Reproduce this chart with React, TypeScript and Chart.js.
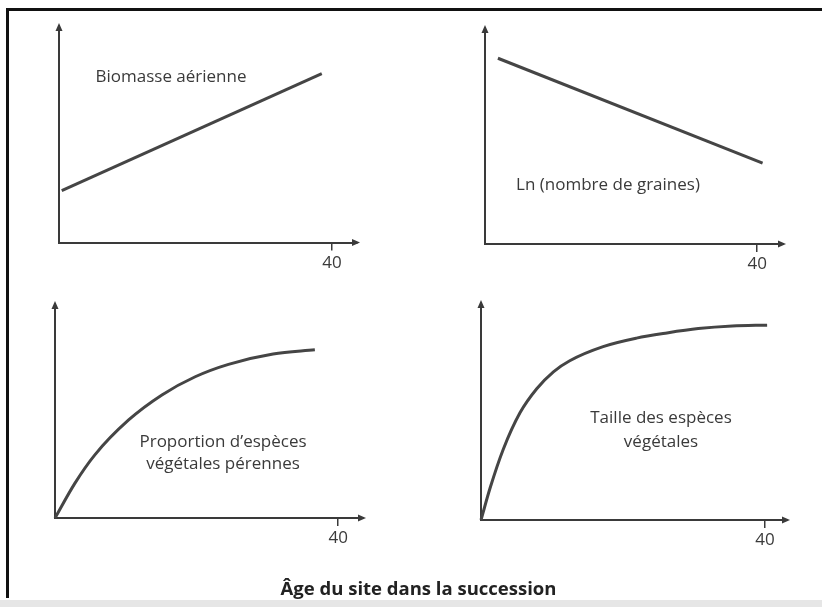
import React, { useEffect, useRef } from "react";
import { Chart, registerables } from "chart.js";

Chart.register(...registerables);

const W = 822;
const H = 607;

// ---- Data ----
const biomasseX = [0.4, 38.5];
const biomasseY = [24, 78];

const grainesX = [1.9, 40.8];
const grainesY = [86, 37.4];

const perennesX = [0, 2.8, 5.6, 10.4, 15.1, 19.8, 24.5, 30.8, 36.7];
const perennesY = [0, 16.2, 29.4, 45.8, 57.5, 66, 71.8, 76.6, 78.6];

const tailleX = [0, 1.27, 3.14, 5.49, 7.85, 10.2, 12.5, 17.2, 21.9, 26.2, 30.6, 35.4, 40.3];
const tailleY = [0, 14.6, 32.6, 49.4, 60.5, 68.3, 73.4, 79.9, 83.8, 86.2, 88.2, 89.4, 89.8];

const xTickValues = [40];
const xTickLabels = ["40"];

const labelBiomasse = ["Biomasse aérienne"];
const labelGraines = ["Ln (nombre de graines)"];
const labelPerennes = ["Proportion d’espèces", "végétales pérennes"];
const labelTaille = ["Taille des espèces", "végétales"];

const axisTitle = "Âge du site dans la succession";

// ---- Layout / style ----
const FONT = "'Open Sans', 'DejaVu Sans', sans-serif";
const AXIS_COLOR = "#3a3a3a";
const LINE_COLOR = "#454545";
const TEXT_COLOR = "#3a3a3a";
const LABEL_SIZE = 17;
const XH = 40;

type Panel = {
  xs: number[];
  ys: number[];
  smooth: boolean;
  box: { left: number; top: number; right: number; bottom: number };
  xMax: number;
  lines: string[];
  lx: number;
  ly: number[];
};

const panels: Panel[] = [
  {
    xs: biomasseX, ys: biomasseY, smooth: false,
    box: { left: 59, top: 26, right: 357, bottom: 242.5 }, xMax: 43.66,
    lines: labelBiomasse, lx: 171, ly: [77],
  },
  {
    xs: grainesX, ys: grainesY, smooth: false,
    box: { left: 485, top: 28, right: 783, bottom: 244 }, xMax: 43.8,
    lines: labelGraines, lx: 608, ly: [185],
  },
  {
    xs: perennesX, ys: perennesY, smooth: true,
    box: { left: 55, top: 304, right: 363, bottom: 518 }, xMax: 43.5,
    lines: labelPerennes, lx: 223, ly: [442, 464],
  },
  {
    xs: tailleX, ys: tailleY, smooth: true,
    box: { left: 481, top: 303, right: 787, bottom: 520 }, xMax: 43.1,
    lines: labelTaille, lx: 661, ly: [418, 442],
  },
];

function makeDecor(p: Panel) {
  return {
    id: "decor",
    afterDraw(chart: any) {
      const { ctx } = chart;
      const xs = chart.scales.x;
      const ys = chart.scales.y;
      const ax = ys.right;
      const ay = xs.top;
      ctx.save();
      ctx.fillStyle = AXIS_COLOR;
      // arrow on x axis
      ctx.beginPath();
      ctx.moveTo(xs.right + 3, ay);
      ctx.lineTo(xs.right - 5, ay - 3.5);
      ctx.lineTo(xs.right - 5, ay + 3.5);
      ctx.closePath();
      ctx.fill();
      // arrow on y axis
      ctx.beginPath();
      ctx.moveTo(ax, ys.top - 3);
      ctx.lineTo(ax - 3.5, ys.top + 5);
      ctx.lineTo(ax + 3.5, ys.top + 5);
      ctx.closePath();
      ctx.fill();
      // curve label
      ctx.font = `${LABEL_SIZE}px ${FONT}`;
      ctx.fillStyle = TEXT_COLOR;
      ctx.textAlign = "center";
      ctx.textBaseline = "middle";
      p.lines.forEach((t, i) => ctx.fillText(t, p.lx, p.ly[i]));
      ctx.restore();
    },
  };
}

function PanelChart({ p }: { p: Panel }) {
  const ref = useRef<HTMLCanvasElement | null>(null);
  useEffect(() => {
    if (!ref.current) return;
    const data = p.xs.map((x, i) => ({ x, y: p.ys[i] }));
    const chart = new Chart(ref.current, {
      type: "line",
      data: {
        datasets: [
          {
            data,
            borderColor: LINE_COLOR,
            borderWidth: 3,
            pointRadius: 0,
            fill: false,
            cubicInterpolationMode: p.smooth ? "monotone" : "default",
            tension: 0,
            clip: false as any,
          },
        ],
      },
      options: {
        responsive: false,
        animation: false,
        events: [],
        layout: {
          padding: {
            left: p.box.left,
            top: p.box.top,
            right: W - p.box.right,
            bottom: H - p.box.bottom - XH,
          },
        },
        plugins: { legend: { display: false }, tooltip: { enabled: false }, title: { display: false } },
        scales: {
          x: {
            type: "linear",
            min: 0,
            max: p.xMax,
            afterFit: (s: any) => { s.height = XH; },
            afterBuildTicks: (s: any) => { s.ticks = xTickValues.map((v) => ({ value: v })); },
            ticks: {
              autoSkip: false,
              maxRotation: 0,
              padding: 2,
              color: TEXT_COLOR,
              font: { family: FONT, size: LABEL_SIZE },
              callback: (v: any) => {
                const i = xTickValues.indexOf(Number(v));
                return i >= 0 ? xTickLabels[i] : "";
              },
            },
            grid: { display: true, drawOnChartArea: false, drawTicks: true, tickLength: 8, color: AXIS_COLOR, lineWidth: 1.5 },
            border: { display: true, color: AXIS_COLOR, width: 2 },
          },
          y: {
            type: "linear",
            min: 0,
            max: 100,
            afterFit: (s: any) => { s.width = 0; },
            ticks: { display: false },
            grid: { display: true, drawOnChartArea: false, drawTicks: false },
            border: { display: true, color: AXIS_COLOR, width: 2 },
          },
        },
      },
      plugins: [makeDecor(p)],
    } as any);
    return () => chart.destroy();
  }, [p]);
  return (
    <canvas
      ref={ref}
      width={W}
      height={H}
      style={{ position: "absolute", left: 0, top: 0, width: W, height: H }}
    />
  );
}

export default function App() {
  return (
    <div style={{ position: "fixed", left: 0, top: 0, width: W, height: H, background: "#fff", overflow: "hidden" }}>
      <div
        style={{
          position: "absolute", left: 6, top: 8, width: W - 6, height: 590,
          borderTop: "3px solid #111", borderLeft: "3px solid #111", boxSizing: "border-box",
        }}
      />
      <div style={{ position: "absolute", left: 0, top: 600, width: W, height: 7, background: "#e6e6e6" }} />
      {panels.map((p, i) => (
        <PanelChart key={i} p={p} />
      ))}
      <div
        style={{
          position: "absolute", left: 0, width: 837, top: 575, textAlign: "center",
          fontFamily: FONT, fontWeight: 700, fontSize: 18.5, color: "#222", lineHeight: "26px",
        }}
      >
        {axisTitle}
      </div>
    </div>
  );
}
